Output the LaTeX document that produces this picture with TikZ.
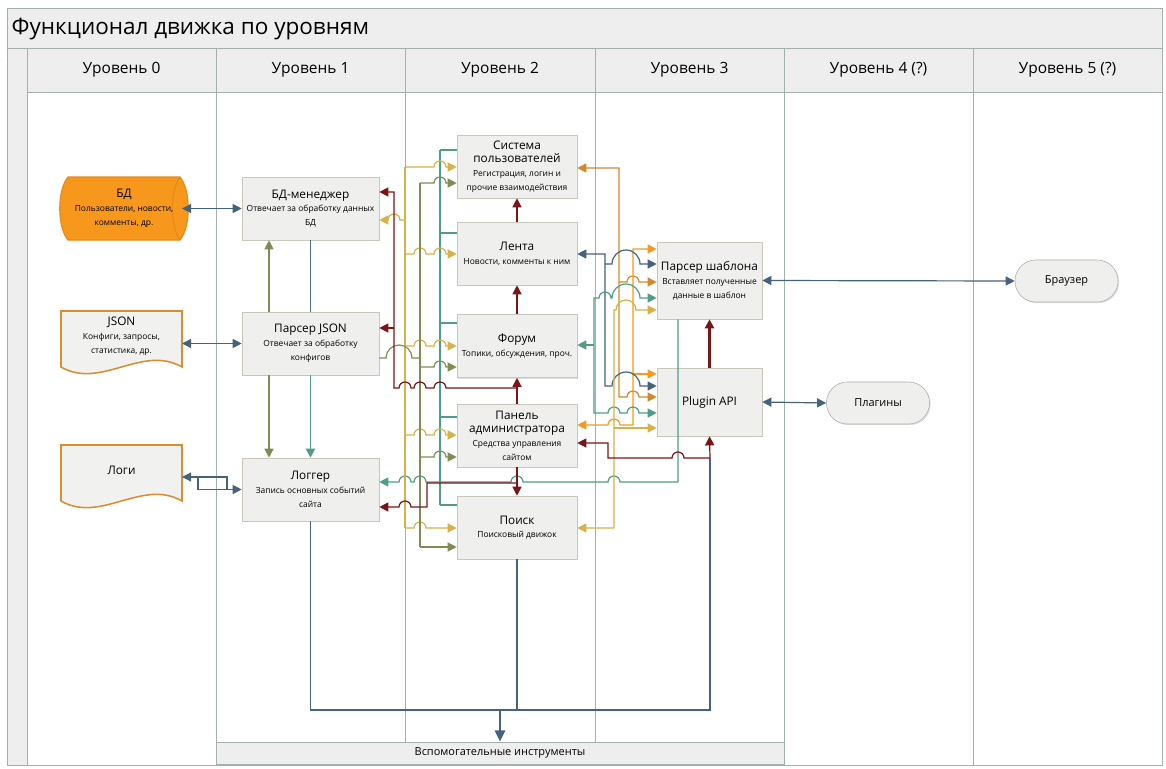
\documentclass[tikz,border=0pt]{standalone}
\usepackage{fontspec}
\setmainfont{Open Sans}
\usetikzlibrary{arrows.meta,shadows}

\definecolor{cslate}{HTML}{45627F}
\definecolor{cred}{HTML}{7B1416}
\definecolor{cyel}{HTML}{D6B248}
\definecolor{colive}{HTML}{7F8C52}
\definecolor{cteal}{HTML}{4F9C88}
\definecolor{corange}{HTML}{F29A22}
\definecolor{cdorange}{HTML}{D3882E}
\definecolor{boxfill}{HTML}{EFEFEE}
\definecolor{boxline}{HTML}{CBC6BA}
\definecolor{bandfill}{HTML}{EEEEEE}
\definecolor{frameline}{HTML}{A4B0AC}
\definecolor{dbfill}{HTML}{F7981D}
\definecolor{dbline}{HTML}{E38B1F}
\definecolor{docline}{HTML}{D98E2F}
\definecolor{docfill}{HTML}{F1F1EF}
\definecolor{pillline}{HTML}{A9B1AB}

\newcommand{\titlesize}{\fontsize{16}{19}\selectfont}
\newcommand{\hdsize}{\fontsize{11}{13}\selectfont}
\newcommand{\nmsize}{\fontsize{8.4}{10}\selectfont}
\newcommand{\txsize}{\fontsize{6}{9.8}\selectfont}
\newcommand{\pillsize}{\fontsize{7.8}{9}\selectfont}

\begin{document}
\begin{tikzpicture}
     [
     x=0.025cm, y=-0.025cm,
     every node/.style={font=\txsize, text=black, inner sep=1pt},
     lvl/.style={draw=boxline, fill=boxfill, align=center, minimum width=3.425cm, minimum height=1.575cm,
       drop shadow={shadow xshift=0.8pt, shadow yshift=-0.8pt, opacity=0.25}},
     lvltwo/.style={lvl, minimum width=3cm},
     lvlthree/.style={lvl, minimum width=2.625cm},
     pill/.style={draw=pillline, fill=boxfill, rounded corners=0.52cm, minimum width=2.575cm, minimum height=1.05cm,
       font=\pillsize, drop shadow={shadow xshift=0.8pt, shadow yshift=-0.8pt, opacity=0.25}},
     frame/.style={draw=frameline, line width=0.6pt},
     >={Triangle[length=6.5pt, width=6.5pt]},
     slateline/.style={draw=cslate, line width=0.85pt},
     redline/.style={draw=cred, line width=0.85pt},
     yelline/.style={draw=cyel, line width=0.85pt},
     oliveline/.style={draw=colive, line width=0.85pt},
     tealline/.style={draw=cteal, line width=0.85pt},
     orline/.style={draw=corange, line width=0.85pt},
     dorline/.style={draw=cdorange, line width=0.85pt}
     ]
     \useasboundingbox (0,0) rectangle (1166,769);
     \fill[white] (0,0) rectangle (1166,769);

     % swimlane frame
     \fill[bandfill] (7,8) rectangle (1162,48);
     \fill[bandfill] (7,48) rectangle (27,765);
     \fill[bandfill] (27,48) rectangle (1162,92);
     \draw[frame] (7,8) rectangle (1162,765);
     \draw[frame] (7,48) -- (1162,48);
     \draw[frame] (27,48) -- (27,765);
     \draw[frame] (27,92) -- (1162,92);
     \foreach \x in {216,784,973} \draw[frame] (\x,48) -- (\x,765);
     \foreach \x in {405,595} \draw[frame] (\x,48) -- (\x,742);
     \node[anchor=west, font=\titlesize] (title) at (10,29) {Функционал движка по уровням};
     \foreach \t/\x [count=\i from 0] in {Уровень 0/121.5, Уровень 1/310.5, Уровень 2/500, Уровень 3/689.5, Уровень 4 (?)/878.5, Уровень 5 (?)/1067.5}
       \node[font=\hdsize] (h\i) at (\x,70) {\t};
     \node[draw=frameline, fill=bandfill, minimum width=14.2cm, minimum height=0.55cm, font=\pillsize] (tools) at (500,753) {Вспомогательные инструменты};

     % level 0
     \draw[fill=dbfill, draw=dbline, line width=0.8pt] (68,177) -- (180,177) .. controls (191,190) and (191,227) .. (180,240)
       -- (68,240) .. controls (57,227) and (57,190) .. (68,177) -- cycle;
     \draw[draw=dbline, line width=0.8pt] (180,177) .. controls (170,190) and (170,227) .. (180,240);
     \node[align=center, minimum width=3.125cm] (bd) at (124,208.5) {{\nmsize БД}\\Пользователи, новости,\\комменты, др.};
     \draw[fill=docfill, draw=docline, line width=1.1pt] (61,311) -- (182,311) -- (182,367) .. controls (142,344) and (101,390) .. (61,367) -- cycle;
     \node[align=center, minimum width=3.025cm] (json) at (121.5,336) {{\nmsize JSON}\\Конфиги, запросы,\\статистика, др.};
     \draw[fill=docfill, draw=docline, line width=1.1pt] (61,445) -- (182,445) -- (182,501) .. controls (142,478) and (101,524) .. (61,501) -- cycle;
     \node[font=\nmsize, minimum width=3.025cm] (logs) at (121.5,470) {Логи};

     % levels 1-5
     \node[lvl] (bdm) at (310.5,208.5) {{\nmsize БД-менеджер}\\Отвечает за обработку данных\\БД};
     \node[lvl] (pjson) at (310.5,343.5) {{\nmsize Парсер JSON}\\Отвечает за обработку\\конфигов};
     \node[lvl] (logger) at (310.5,489.5) {{\nmsize Логгер}\\Запись основных событий\\сайта};
     \node[lvltwo] (users) at (517,166.5) {{\nmsize Система}\\{\nmsize пользователей}\\Регистрация, логин и\\прочие взаимодействия};
     \node[lvltwo] (feed) at (517,253.5) {{\nmsize Лента}\\Новости, комменты к ним};
     \node[lvltwo] (forum) at (517,346) {{\nmsize Форум}\\Топики, обсуждения, проч.};
     \node[lvltwo] (admin) at (517,435.5) {{\nmsize Панель}\\{\nmsize администратора}\\Средства управления\\сайтом};
     \node[lvltwo] (search) at (517,527.5) {{\nmsize Поиск}\\Поисковый движок};
     \node[lvlthree, minimum height=1.925cm] (tpl) at (709.5,280.5) {{\nmsize Парсер шаблона}\\Вставляет полученные\\данные в шаблон};
     \node[lvlthree, minimum height=1.7cm, font=\nmsize] (api) at (709.5,402) {Plugin API};
     \node[pill] (browser) at (1066.5,281) {Браузер};
     \node[pill] (plugins) at (878,403) {Плагины};

     % level 0 <-> level 1
     \draw[slateline,<->] (182,208.5) -- (bdm.west);
     \draw[slateline,<->] (182,343.5) -- (pjson.west);
     \draw[slateline,<-] (182,477) -- (227,477) -- (227,490);
     \draw[slateline,->] (198,477) |- (logger.west);

     % level 1 column
     \draw[oliveline,->] (269,0 |- pjson.north) -- (269,0 |- bdm.south);
     \draw[oliveline,->] (269,0 |- pjson.south) -- (269,0 |- logger.north);
     \draw[draw=cslate!70!cteal, line width=1.1pt] (bdm.south) -- (pjson.north);
     \draw[draw=cteal, line width=1.4pt, ->] (pjson.south) -- (logger.north);

     % teal back to the logger
     \draw[tealline] (440,150) -- (440,505);
     \foreach \n/\y in {users/150, feed/233, forum/323, admin/417, search/505}
       \draw[tealline] (\n.west |- 0,\y) -- (440,\y);
     \draw[tealline,->] (678,0 |- tpl.south) -- (678,482) -- (620,482) arc[start angle=0, end angle=-180, radius=6]
       -- (523,482) arc[start angle=0, end angle=-180, radius=6] -- (426,482) arc[start angle=0, end angle=-180, radius=6]
       -- (411,482) arc[start angle=0, end angle=-180, radius=6] -- (logger.east |- 0,482);

     % buses into level 2
     \draw[yelline] (405,167) -- (405,528);
     \draw[yelline,->] (405,167) -- (434,167) arc[start angle=180, end angle=360, radius=6] -- (users.west |- 0,167);
     \foreach \n/\y in {feed/254, forum/346, admin/435}
       \draw[yelline,->] (405,\y) -- (414,\y) arc[start angle=180, end angle=360, radius=6]
         -- (434,\y) arc[start angle=180, end angle=360, radius=6] -- (\n.west |- 0,\y);
     \draw[yelline,->] (405,528) -- (414,528) arc[start angle=180, end angle=360, radius=6] -- (search.west |- 0,528);
     \draw[yelline,->] (405,220) -- (400,220) arc[start angle=0, end angle=-180, radius=6] -- (bdm.east |- 0,220);
     \draw[oliveline] (pjson.east |- 0,358) -- (386,358) arc[start angle=180, end angle=360, radius=13] -- (420,358);
     \draw[oliveline] (420,183) -- (420,547);
     \foreach \n/\y in {users/183, forum/367, admin/457}
       \draw[oliveline,->] (420,\y) -- (434,\y) arc[start angle=180, end angle=360, radius=6] -- (\n.west |- 0,\y);
     \draw[oliveline,->] (420,547) -- (search.west |- 0,547);

     % level 2 chain
     \draw[redline,->] (feed.north) -- (users.south);
     \draw[redline,->] (forum.north) -- (feed.south);
     \draw[redline,->] (admin.north) -- (forum.south);
     \draw[redline,->] (admin.south) -- (search.north);
     \draw[redline,->] (admin.north |- 0,388) -- (446,388) arc[start angle=0, end angle=-180, radius=6]
       -- (426,388) arc[start angle=0, end angle=-180, radius=6] -- (411,388) arc[start angle=0, end angle=-180, radius=6]
       -- (394,388) |- (bdm.east |- 0,192);
     \draw[redline,->] (394,328) -- (pjson.east |- 0,328);
     \draw[redline,->] (admin.south |- 0,483) -- (427,483) -- (427,507) -- (411,507)
       arc[start angle=0, end angle=-180, radius=6] -- (logger.east |- 0,507);

     % level 2 <-> level 3
     \draw[dorline,<->] (users.east |- 0,168) -- (619,168) -- (619,397) -- (627,397)
       arc[start angle=180, end angle=360, radius=6] -- (api.west |- 0,397);
     \draw[dorline,->] (619,282) -- (627,282) arc[start angle=180, end angle=360, radius=6] -- (tpl.west |- 0,282);
     \draw[orline,<->] (admin.east |- 0,425) -- (608,425) arc[start angle=180, end angle=360, radius=6]
       -- (633,425) |- (tpl.west |- 0,249);
     \draw[orline,->] (633,374) -- (api.west |- 0,374);
     \draw[slateline,<->] (feed.east |- 0,254) -- (605,254) -- (605,386) -- (612,386)
       arc[start angle=180, end angle=360, radius=14] -- (api.west |- 0,386);
     \draw[slateline,->] (605,264) -- (612,264) arc[start angle=180, end angle=360, radius=14] -- (tpl.west |- 0,264);
     \draw[tealline,<->] (tpl.west |- 0,298) -- (640,298) arc[start angle=0, end angle=-180, radius=14]
       -- (611,298) arc[start angle=0, end angle=-180, radius=6] -- (594,298) -- (594,413) -- (608,413)
       arc[start angle=180, end angle=360, radius=6] -- (627,413) arc[start angle=180, end angle=360, radius=6]
       -- (api.west |- 0,413);
     \draw[tealline,->] (594,345) -- (forum.east |- 0,345);
     \draw[yelline,<->] (search.east |- 0,528) -- (614,528) -- (614,310) -- (616,310)
       arc[start angle=180, end angle=360, radius=10] -- (tpl.west |- 0,310);
     \draw[yelline,->] (614,428) -- (api.west |- 0,428);
     \draw[redline,<->] (admin.east |- 0,443) -- (608,443) -- (608,458) -- (672,458)
       arc[start angle=180, end angle=360, radius=6] -- (710,458) -- (api.south);
     \draw[draw=cred, line width=1.7pt, ->] (api.north) -- (tpl.south);

     % level 3 <-> outer
     \draw[slateline,<->] (tpl.east) -- (browser.west);
     \draw[slateline,<->] (api.east) -- (plugins.west);

     % tools
     \draw[draw=cslate, line width=1.2pt] (logger.south) |- (710,710) -- (710,458);
     \draw[draw=cslate, line width=1.2pt] (search.south) -- (517,710);
     \draw[draw=cslate, line width=2pt, -{Triangle[length=8pt, width=7pt]}] (500,710) -- (tools.north);
\end{tikzpicture}
\end{document}
